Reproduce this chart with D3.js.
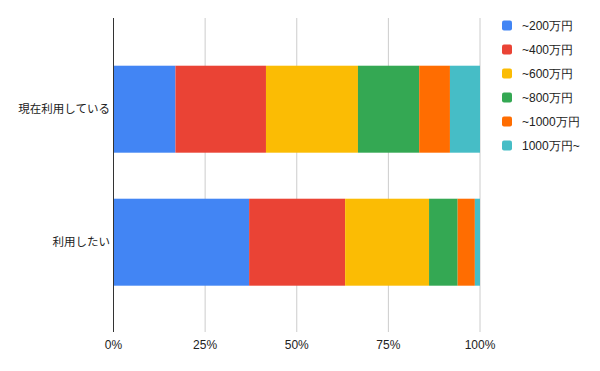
<!DOCTYPE html>
<html>
<head>
<meta charset="utf-8">
<script src="https://cdn.jsdelivr.net/npm/d3@7"></script>
<style>
  body { margin: 0; background: #fff; }
  svg { display: block; font-family: "Liberation Sans", Arial, sans-serif; }
</style>
</head>
<body>
<svg id="chart" width="600" height="371"></svg>
<script>
const categories = ["現在利用している", "利用したい"];
const seriesNames = ["~200万円", "~400万円", "~600万円", "~800万円", "~1000万円", "1000万円~"];
const colors = ["#4285F4", "#EA4335", "#FBBC04", "#34A853", "#FF6D01", "#46BDC6"];
const currentValues = [16.9, 24.7, 25.1, 16.7, 8.4, 8.2];
const wantValues = [37.0, 26.2, 22.9, 7.8, 4.7, 1.4];
const tickValues = [0, 0.25, 0.5, 0.75, 1];
const tickLabels = ["0%", "25%", "50%", "75%", "100%"];

const valuesByCategory = [currentValues, wantValues];

const svg = d3.select("#chart");
const plot = { left: 113.5, right: 480, top: 18, bottom: 332 };

const x = d3.scaleLinear().domain([0, 1]).range([plot.left, plot.right]);
const y = d3.scaleBand().domain(categories).range([42.7, 308.7]).paddingInner(0.346).paddingOuter(0.173);

// gridlines
svg.append("g").selectAll("line").data(tickValues.slice(1)).join("line")
  .attr("x1", d => x(d)).attr("x2", d => x(d))
  .attr("y1", plot.top).attr("y2", plot.bottom)
  .attr("stroke", "#cccccc").attr("stroke-width", 1);

// stacked data
const rows = categories.map((c, i) => {
  const vals = valuesByCategory[i];
  const total = d3.sum(vals);
  const o = { cat: c };
  seriesNames.forEach((s, j) => o[s] = vals[j] / total);
  return o;
});
const stack = d3.stack().keys(seriesNames)(rows);

svg.append("g").selectAll("g").data(stack).join("g")
  .attr("fill", (d, i) => colors[i])
  .selectAll("rect").data(d => d).join("rect")
  .attr("x", d => x(d[0]))
  .attr("width", d => x(d[1]) - x(d[0]))
  .attr("y", d => y(d.data.cat))
  .attr("height", y.bandwidth());

// axis line
svg.append("line")
  .attr("x1", plot.left).attr("x2", plot.left)
  .attr("y1", plot.top).attr("y2", plot.bottom)
  .attr("stroke", "#333").attr("stroke-width", 1);

// x tick labels
svg.append("g").selectAll("text").data(tickValues).join("text")
  .attr("x", d => x(d)).attr("y", 349)
  .attr("text-anchor", "middle")
  .attr("font-size", 12).attr("fill", "#222")
  .text((d, i) => tickLabels[i]);

// category labels
svg.append("g").selectAll("text").data(categories).join("text")
  .attr("x", 110).attr("y", d => y(d) + y.bandwidth() / 2)
  .attr("dy", "0.35em")
  .attr("text-anchor", "end")
  .attr("font-size", 11.5).attr("fill", "#222")
  .attr("font-family", "'Noto Sans CJK JP', sans-serif")
  .text(d => d);

// legend
const legend = svg.append("g").selectAll("g").data(seriesNames).join("g")
  .attr("transform", (d, i) => `translate(502, ${25.5 + i * 24})`);
legend.append("rect")
  .attr("x", 0).attr("y", -5).attr("width", 10).attr("height", 10)
  .attr("rx", 2).attr("fill", (d, i) => colors[i]);
legend.append("text")
  .attr("x", 20).attr("y", 0).attr("dy", "0.35em")
  .attr("font-size", 12).attr("fill", "#222")
  .text(d => d);
</script>
</body>
</html>
